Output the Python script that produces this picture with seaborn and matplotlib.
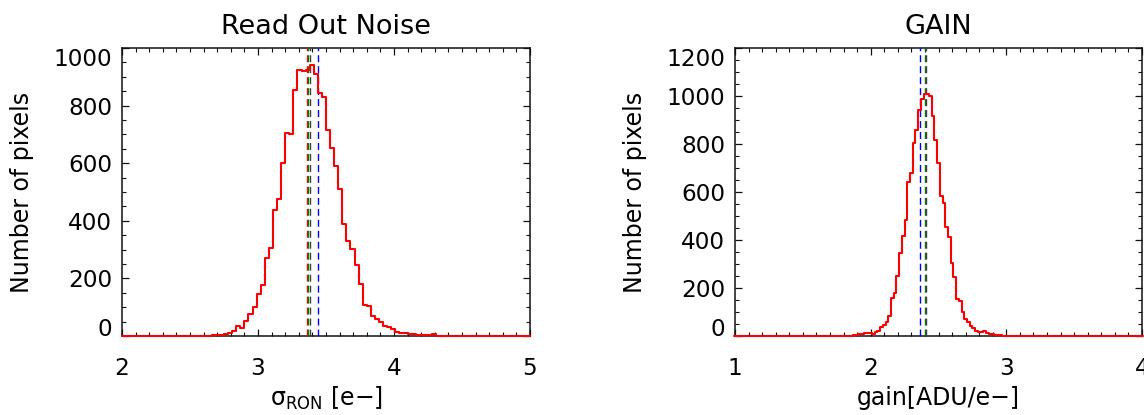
import numpy as np
import pandas as pd
import seaborn as sns
import matplotlib
matplotlib.use("Agg")
import matplotlib.pyplot as plt
from matplotlib.ticker import MultipleLocator

# read out noise histogram: bins of 0.03 e- starting at 2.0
ron_start = 2.0
ron_bin = 0.03
ron_counts = [0] * 17 + [
    1, 1, 1, 1, 1, 2, 3, 5, 8, 10, 18, 35, 28, 52, 78, 101, 147, 176, 271, 304,
    437, 474, 601, 705, 702, 853, 925, 921, 924, 942, 910, 843, 830, 715, 652,
    589, 510, 390, 330, 302, 246, 182, 108, 104, 68, 60, 50, 35, 32, 23, 14, 12,
    10, 8, 6, 4, 3, 2, 2, 8, 1, 1, 1] + [0] * 20
ron_lines = {"red": 3.358, "green": 3.370, "#404040": 3.381, "blue": 3.438}

# gain histogram: bins of 0.02 ADU/e- starting at 0.99
gain_start = 0.99
gain_bin = 0.02
gain_counts = [0] * 41 + [
    1, 1, 2, 3, 5, 8, 10, 14, 13, 12, 10, 18, 22, 36, 46, 60, 82, 157, 181, 248,
    345, 417, 484, 640, 679, 804, 859, 943, 987, 1008, 1010, 999, 915, 818, 720,
    584, 553, 456, 414, 303, 245, 155, 145, 100, 70, 60, 42, 32, 22, 18, 15, 19,
    12, 10, 9, 6, 5, 3, 2, 2, 1, 1] + [0] * 48
gain_lines = {"blue": 2.363, "green": 2.398, "#404040": 2.409}

sns.set_style("ticks")
plt.rcParams["font.family"] = ["DejaVu Sans"]
plt.rcParams["lines.scale_dashes"] = False
plt.rcParams["text.color"] = "black"
plt.rcParams["axes.labelcolor"] = "black"


def draw_panel(ax, start, width, counts, vlines, xlim, ylim, xstep, ystep,
               title, xlabel):
    n = len(counts)
    df = pd.DataFrame({"val": start + width * (np.arange(n) + 0.5), "n": counts})
    sns.histplot(data=df, x="val", weights="n", binwidth=width,
                 binrange=(start, start + width * n), element="step",
                 fill=False, color="red", linewidth=1.5, ax=ax)
    for ln in ax.lines:
        ln.set_clip_on(False)
        ln.set_zorder(4)
    for col, xv in vlines.items():
        ax.axvline(xv, color=col, lw=1.0, dashes=(5, 2.9), zorder=3)
    ax.set_xlim(*xlim)
    ax.set_ylim(*ylim)
    ax.set_xticks(np.arange(xlim[0], xlim[1] + 0.5, 1))
    ax.xaxis.set_minor_locator(MultipleLocator(xstep))
    ax.set_yticks(np.arange(ylim[0], ylim[1] + 1, 200))
    ax.yaxis.set_minor_locator(MultipleLocator(ystep))
    ax.tick_params(which="both", direction="in", top=True, right=True,
                   colors="#111111", labelcolor="black", labelsize=16.7)
    ax.tick_params(which="major", length=5, width=0.9)
    ax.tick_params(which="minor", length=3, width=0.8)
    ax.tick_params(axis="x", pad=15)
    ax.tick_params(axis="y", pad=7)
    for sp in ax.spines.values():
        sp.set_linewidth(1.1)
        sp.set_color("#111111")
    ax.set_title(title, fontsize=19.5, pad=10, color="black")
    ax.set_ylabel("Number of pixels", fontsize=17)
    ax.yaxis.set_label_coords(-0.215, 0.5)
    ax.set_xlabel(xlabel, fontsize=17, va="center")
    ax.xaxis.set_label_coords(0.5, -0.215)
    yt = ax.yaxis.get_major_ticks()
    yt[0].label1.set_va("baseline")
    yt[-1].label1.set_va("top")


fig = plt.figure(figsize=(11.44, 4.15), dpi=100)
ax1 = fig.add_axes([122 / 1144, 79 / 415, 408 / 1144, 288 / 415])
ax2 = fig.add_axes([735 / 1144, 79 / 415, 407 / 1144, 288 / 415])

draw_panel(ax1, ron_start, ron_bin, ron_counts, ron_lines, (2, 5), (0, 1000),
           0.1, 50, "Read Out Noise", r"σ$_{\mathrm{RON}}$ [e−]")
draw_panel(ax2, gain_start, gain_bin, gain_counts, gain_lines, (1, 4), (0, 1200),
           0.1, 50, "GAIN", "gain[ADU/e−]")

fig.savefig("out.png", dpi=100)
